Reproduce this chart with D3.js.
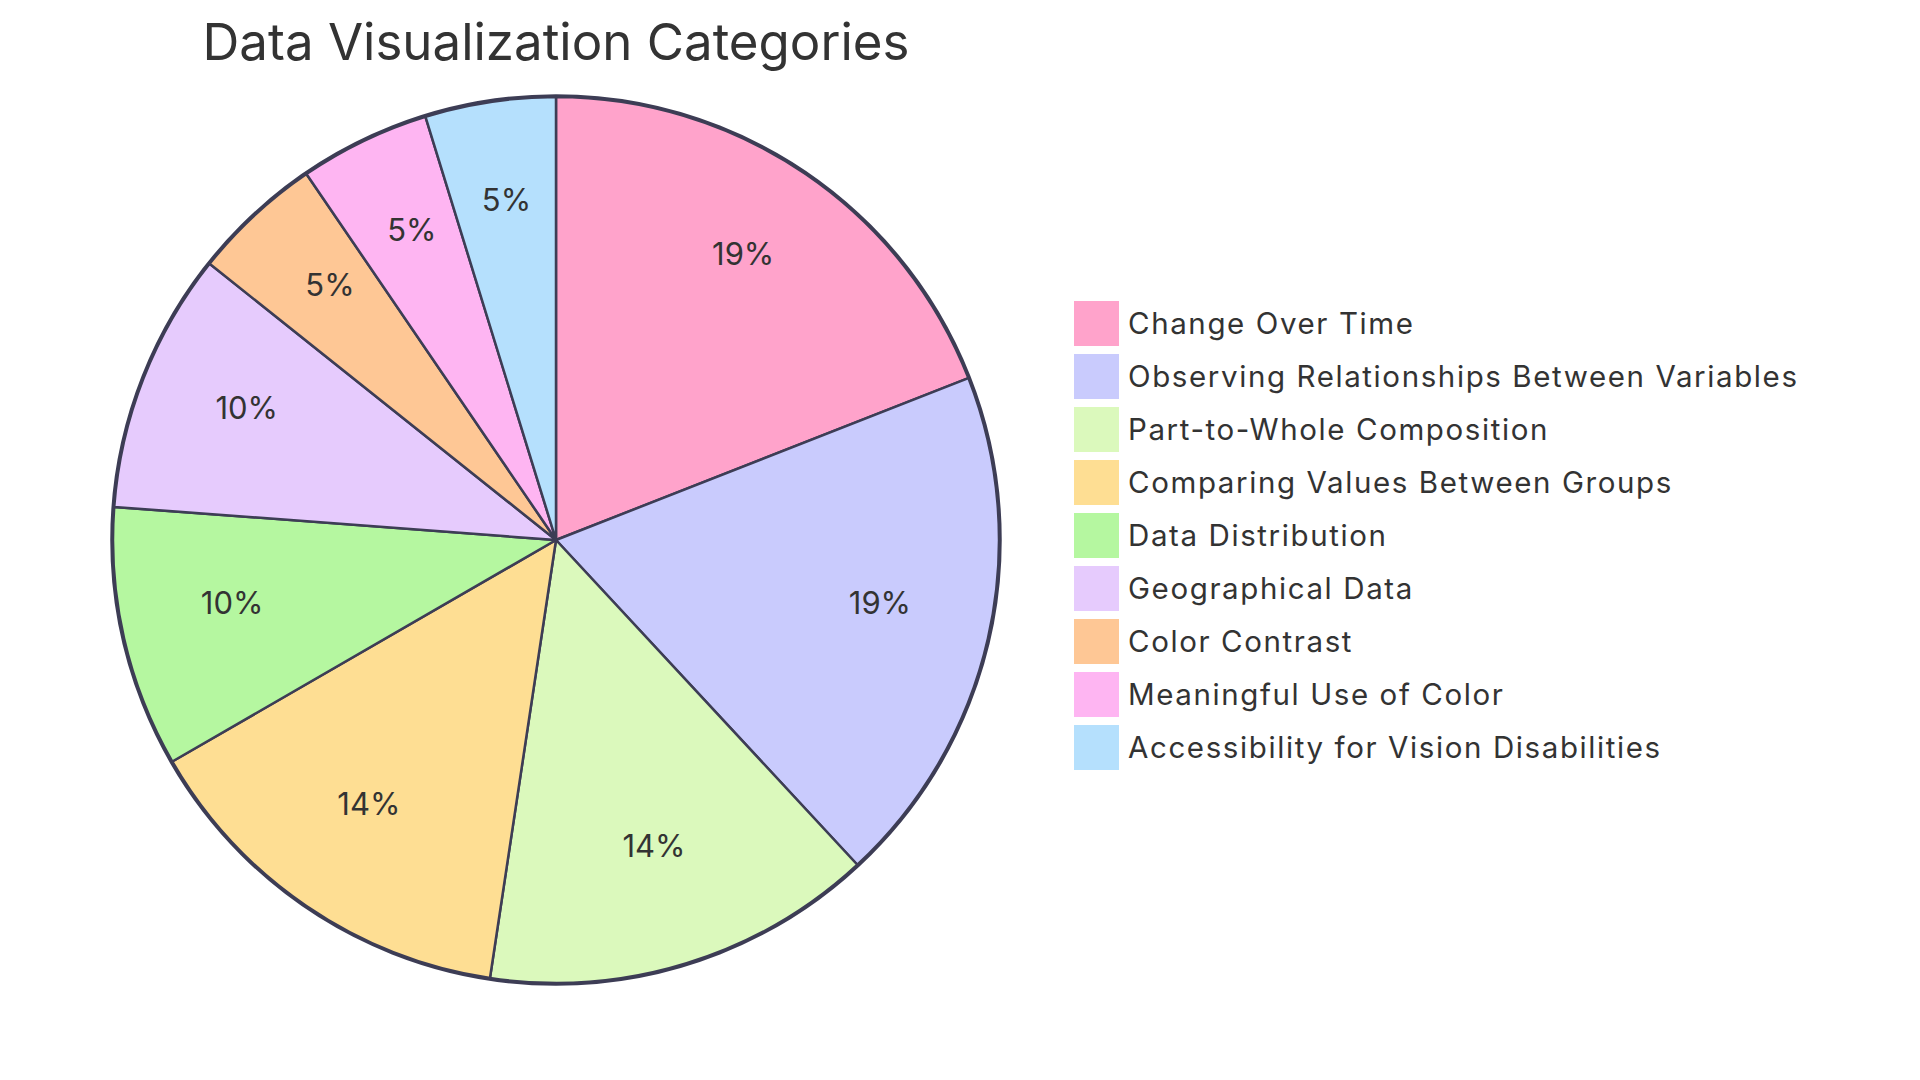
<!DOCTYPE html>
<html>
<head>
<meta charset="utf-8">
<script src="https://cdn.jsdelivr.net/npm/d3@7"></script>
<style>
  body { margin: 0; background: #fff; }
  text { font-family: Inter, "Open Sans", sans-serif; fill: #333; }
</style>
</head>
<body>
<svg></svg>
<script>
const width = 1920;
const height = 1080;

// DATA
const categories = [
  "Change Over Time",
  "Observing Relationships Between Variables",
  "Part-to-Whole Composition",
  "Comparing Values Between Groups",
  "Data Distribution",
  "Geographical Data",
  "Color Contrast",
  "Meaningful Use of Color",
  "Accessibility for Vision Disabilities"
];
const values = [4, 4, 3, 3, 2, 2, 1, 1, 1];
const colors = ["#FFA3CB", "#C9CBFD", "#DBF9BC", "#FEDE93", "#B5F7A0",
                "#E6CBFD", "#FEC795", "#FEB5F2", "#B5E0FD"];

const cx = 556;
const cy = 540;
const radius = 443;

const data = categories.map((c, i) => ({ name: c, value: values[i] }));
const total = d3.sum(values);

const colorScale = d3.scaleOrdinal()
        .domain(categories)
        .range(colors)

const pie = d3.pie()
        .value(d => d.value)
        .sort(null)

const arc = d3.arc()
        .innerRadius(0)
        .outerRadius(radius)

const labelArc = d3.arc()
        .innerRadius(radius * 0.75)
        .outerRadius(radius * 0.75)

const svg = d3.select("svg")
  .attr("width", width)
  .attr("height", height)

const g = svg.append("g")
  .attr("transform", `translate(${cx}, ${cy})`)

// OUTER RING
g.append("circle")
  .attr("r", radius + 1)
  .attr("fill", "none")
  .attr("stroke", "#3d3d55")
  .attr("stroke-width", 3.5)

// SLICES
g.selectAll("path")
  .data(pie(data))
  .enter()
  .append("path")
    .attr("d", arc)
    .attr("fill", d => colorScale(d.data.name))
    .attr("stroke", "#3d3d55")
    .attr("stroke-width", 2.5)
    .attr("stroke-linejoin", "round")

// PERCENT LABELS
g.selectAll("text.pct")
  .data(pie(data))
  .enter()
  .append("text")
    .attr("class", "pct")
    .attr("transform", d => `translate(${labelArc.centroid(d)})`)
    .style("text-anchor", "middle")
    .style("font-size", "31px")
    .text(d => Math.round(d.data.value / total * 100) + "%")

// TITLE
svg.append("text")
  .attr("x", cx)
  .attr("y", 60)
  .style("text-anchor", "middle")
  .style("font-size", "51px")
  .text("Data Visualization Categories")

// LEGEND
const legend = svg.selectAll("g.legend")
  .data(categories)
  .enter()
  .append("g")
    .attr("class", "legend")
    .attr("transform", (d, i) => `translate(1074, ${301 + i * 53})`)

legend.append("rect")
  .attr("width", 45)
  .attr("height", 45)
  .attr("fill", d => colorScale(d))

legend.append("text")
  .attr("x", 54)
  .attr("y", 33)
  .style("font-size", "29.5px")
  .style("letter-spacing", "1.6px")
  .text(d => d)
</script>
</body>
</html>
